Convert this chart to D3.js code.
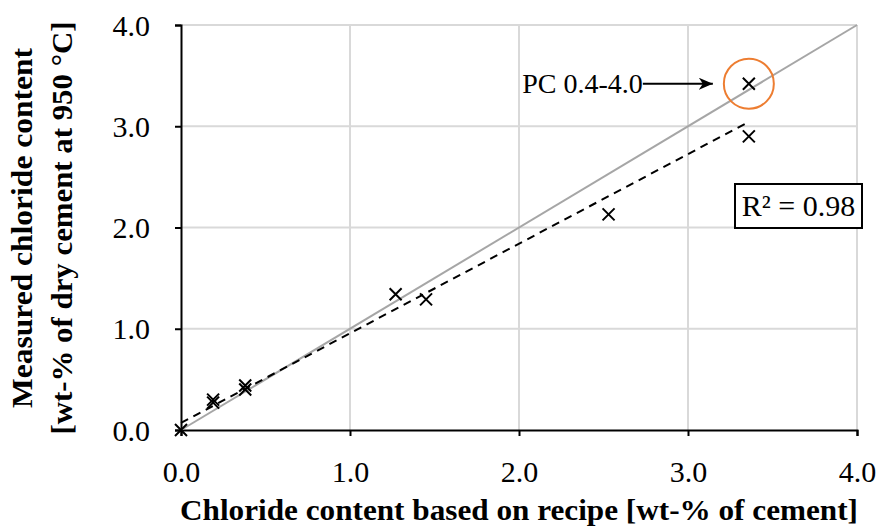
<!DOCTYPE html>
<html>
<head>
<meta charset="utf-8">
<script src="https://cdn.jsdelivr.net/npm/d3@7"></script>
<style>
  html, body { margin: 0; padding: 0; background: #fff; }
  svg { display: block; font-family: "Liberation Serif", "Times New Roman", serif; }
</style>
</head>
<body>
<svg id="chart" width="878" height="526"></svg>
<script>
// Chloride content: recipe (x) vs. measured at 950 °C (y), wt-%
const recipe   = [0.00, 0.19, 0.19, 0.38, 0.38, 1.27, 1.45, 2.53, 3.36, 3.36];
const measured = [0.00, 0.30, 0.27, 0.44, 0.40, 1.34, 1.29, 2.13, 2.90, 3.42];
const tickValues = [0, 1, 2, 3, 4];
// Linear trend line through the measurements
const trendSlope = 0.885;
const trendIntercept = 0.07;
const trendRange = [0, 3.36];
const rSquaredLabel = "R² = 0.98";
const highlight = { label: "PC 0.4-4.0", x: 3.36, y: 3.42 };

const svg = d3.select("#chart");
const x = d3.scaleLinear().domain([0, 4]).range([181, 857]);
const y = d3.scaleLinear().domain([0, 4]).range([430, 25]);

// Grid lines
const grid = svg.append("g").attr("stroke", "#d9d9d9").attr("stroke-width", 2);
tickValues.filter(v => v > 0).forEach(v => {
  grid.append("line").attr("x1", x(v)).attr("x2", x(v)).attr("y1", y(0)).attr("y2", y(4));
  grid.append("line").attr("x1", x(0)).attr("x2", x(4)).attr("y1", y(v)).attr("y2", y(v));
});

// Axes
const fmt = d3.format(".1f");
const xAxis = svg.append("g").attr("transform", `translate(0,${y(0)})`)
  .call(d3.axisBottom(x).tickValues(tickValues).tickFormat(fmt).tickSize(6).tickPadding(10));
const yAxis = svg.append("g").attr("transform", `translate(${x(0)},0)`)
  .call(d3.axisLeft(y).tickValues(tickValues).tickFormat(fmt).tickSize(6).tickPadding(25));
[xAxis, yAxis].forEach(a => {
  a.attr("font-family", null).attr("font-size", null);
  a.select(".domain").attr("stroke", "#000").attr("stroke-width", 2);
  a.selectAll(".tick line").attr("stroke", "#000").attr("stroke-width", 2);
  a.selectAll(".tick text").style("font-family", "'Liberation Serif', serif")
    .style("font-size", "30px").attr("fill", "#000");
});
xAxis.selectAll(".tick text").attr("y", 52).attr("dy", 0);
yAxis.selectAll(".tick text").attr("dy", "0.34em");

// 1:1 reference line
svg.append("line")
  .attr("x1", x(0)).attr("y1", y(0)).attr("x2", x(4)).attr("y2", y(4))
  .attr("stroke", "#a6a6a6").attr("stroke-width", 2);

// Trend line
svg.append("line")
  .attr("x1", x(trendRange[0])).attr("y1", y(trendIntercept + trendSlope * trendRange[0]))
  .attr("x2", x(trendRange[1])).attr("y2", y(trendIntercept + trendSlope * trendRange[1]))
  .attr("stroke", "#000").attr("stroke-width", 2).attr("stroke-dasharray", "8,6");

// Measurement markers (crosses)
const s = 6;
const pts = recipe.map((r, i) => ({ r, m: measured[i] }));
const marks = svg.append("g").attr("stroke", "#000").attr("stroke-width", 2);
pts.forEach(p => {
  const cx = x(p.r), cy = y(p.m);
  marks.append("path").attr("d", `M${cx - s},${cy - s}L${cx + s},${cy + s}M${cx - s},${cy + s}L${cx + s},${cy - s}`);
});

// Highlighted sample with label and arrow
svg.append("defs").append("marker")
  .attr("id", "arrow").attr("viewBox", "0 0 14 12").attr("refX", 14).attr("refY", 6)
  .attr("markerUnits", "userSpaceOnUse")
  .attr("markerWidth", 14).attr("markerHeight", 12).attr("orient", "auto")
  .append("path").attr("d", "M0,0L14,6L0,12L4,6Z").attr("fill", "#000");
svg.append("circle")
  .attr("cx", x(highlight.x)).attr("cy", y(highlight.y)).attr("r", 25)
  .attr("fill", "none").attr("stroke", "#ed7d31").attr("stroke-width", 2);
svg.append("text")
  .attr("x", x(highlight.x) - 106).attr("y", y(highlight.y) + 9)
  .attr("text-anchor", "end").style("font-size", "28px").text(highlight.label);
svg.append("line")
  .attr("x1", x(highlight.x) - 106).attr("y1", y(highlight.y))
  .attr("x2", x(highlight.x) - 36).attr("y2", y(highlight.y))
  .attr("stroke", "#000").attr("stroke-width", 2).attr("marker-end", "url(#arrow)");

// R² box
const box = svg.append("g").attr("transform", "translate(735,184)");
box.append("rect").attr("width", 127).attr("height", 44)
  .attr("fill", "#fff").attr("stroke", "#000").attr("stroke-width", 2);
box.append("text").attr("x", 63.5).attr("y", 32).attr("text-anchor", "middle")
  .style("font-size", "30px").text(rSquaredLabel);

// Axis titles
svg.append("text")
  .attr("x", 519).attr("y", 520).attr("text-anchor", "middle")
  .attr("textLength", 678).attr("lengthAdjust", "spacingAndGlyphs")
  .style("font-size", "30px").attr("font-weight", "bold")
  .text("Chloride content based on recipe [wt-% of cement]");
const yt = svg.append("g").attr("transform", "translate(0,228) rotate(-90)")
  .style("font-size", "30px").attr("font-weight", "bold").attr("text-anchor", "middle");
yt.append("text").attr("x", 0).attr("y", 32)
  .attr("textLength", 360).attr("lengthAdjust", "spacingAndGlyphs")
  .text("Measured chloride content");
yt.append("text").attr("x", 0).attr("y", 72)
  .attr("textLength", 413).attr("lengthAdjust", "spacingAndGlyphs")
  .text("[wt-% of dry cement at 950 °C]");
</script>
</body>
</html>
